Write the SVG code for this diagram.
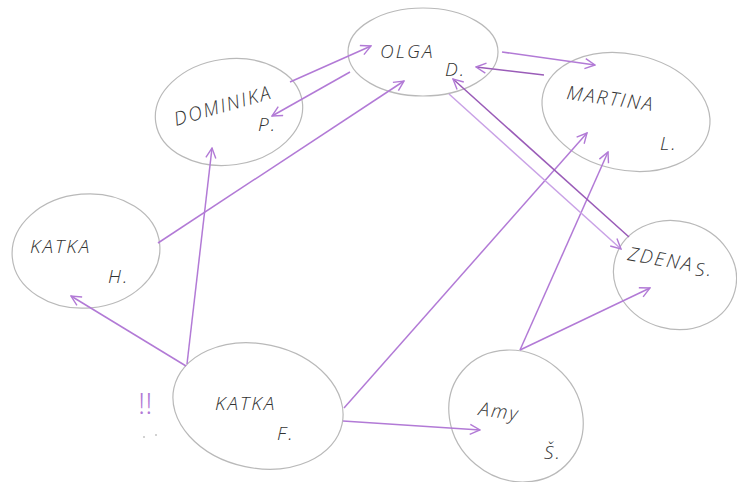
<svg xmlns="http://www.w3.org/2000/svg" width="737" height="482" viewBox="0 0 737 482">
<defs>
<style>
.node ellipse{fill:none;stroke:#b9b9b9;stroke-width:1.2}
.t{font-family:"Open Sans","DejaVu Sans",sans-serif;font-weight:300;font-style:italic;fill:#333333;font-size:19px;letter-spacing:2px}
.e line{stroke:#b27ad6;stroke-width:1.5;fill:none;marker-end:url(#ah)}
.e line.dk{stroke:#9a5cb8}
.e line.lt{stroke:#c9a2e6}
</style>
<marker id="ah" viewBox="0 0 12 12" refX="11" refY="6" markerWidth="12" markerHeight="12" markerUnits="userSpaceOnUse" orient="auto">
<path d="M1,1 L11,6 L1,11" fill="none" stroke="#b27ad6" stroke-width="1.4"/>
</marker>
</defs>
<rect width="737" height="482" fill="#ffffff"/>
<g id="olga" class="node">
<ellipse cx="423" cy="52" rx="75" ry="44"/>
<text class="t" x="380" y="58">OLGA</text>
<text class="t" x="445" y="76">D.</text>
</g>
<g id="dominika" class="node">
<ellipse cx="229" cy="112" rx="74" ry="53" transform="rotate(-8 229 112)"/>
<text class="t" x="176" y="126" font-size="15" letter-spacing="1" transform="rotate(-16 176 126)">DOMINIKA</text>
<text class="t" x="258" y="131">P.</text>
</g>
<g id="martina" class="node">
<ellipse cx="626" cy="112" rx="85" ry="58" transform="rotate(12 626 112)"/>
<text class="t" x="566" y="99" font-size="16" transform="rotate(8 566 99)">MARTINA</text>
<text class="t" x="660" y="150">L.</text>
</g>
<g id="zdena" class="node">
<ellipse cx="675" cy="275" rx="62" ry="54" transform="rotate(15 675 275)"/>
<text class="t" x="627" y="260" font-size="14" letter-spacing="1" transform="rotate(10 627 260)">ZDENA</text>
<text class="t" x="695" y="276">S.</text>
</g>
<g id="katka-h" class="node">
<ellipse cx="86" cy="251" rx="74" ry="57" transform="rotate(-5 86 251)"/>
<text class="t" x="30" y="253">KATKA</text>
<text class="t" x="108" y="283">H.</text>
</g>
<g id="katka-f" class="node">
<ellipse cx="258" cy="406" rx="86" ry="62" transform="rotate(12 258 406)"/>
<text class="t" x="215" y="410" letter-spacing="4">KATKA</text>
<text class="t" x="277" y="440">F.</text>
</g>
<g id="amy" class="node">
<ellipse cx="516" cy="416" rx="70" ry="63" transform="rotate(40 516 416)"/>
<text class="t" x="478" y="415" font-size="23" transform="rotate(8 478 415)">Amy</text>
<text class="t" x="544" y="459">Š.</text>
</g>
<g id="note">
<text x="138" y="414" font-family="Open Sans, sans-serif" font-weight="300" font-size="30" fill="#b27ad6">!!</text>
<circle cx="144" cy="437" r="0.8" fill="#999"/>
<circle cx="156" cy="435" r="0.8" fill="#999"/>
</g>
<g id="edges" class="e">
<line x1="290" y1="82" x2="371" y2="46"/>
<line x1="350" y1="72" x2="272" y2="116"/>
<line x1="158" y1="243" x2="404" y2="81"/>
<line x1="187" y1="364" x2="212" y2="148"/>
<line x1="186" y1="366" x2="71" y2="296"/>
<line x1="344" y1="408" x2="587" y2="133"/>
<line x1="343" y1="421" x2="480" y2="430"/>
<line x1="520" y1="350" x2="608" y2="152"/>
<line x1="520" y1="350" x2="650" y2="288"/>
<line x1="502" y1="52" x2="595" y2="65"/>
<line class="dk" x1="544" y1="75" x2="476" y2="67"/>
<line class="dk" x1="629" y1="237" x2="453" y2="79"/>
<line class="lt" x1="449" y1="94" x2="621" y2="249"/>
</g>
</svg>
